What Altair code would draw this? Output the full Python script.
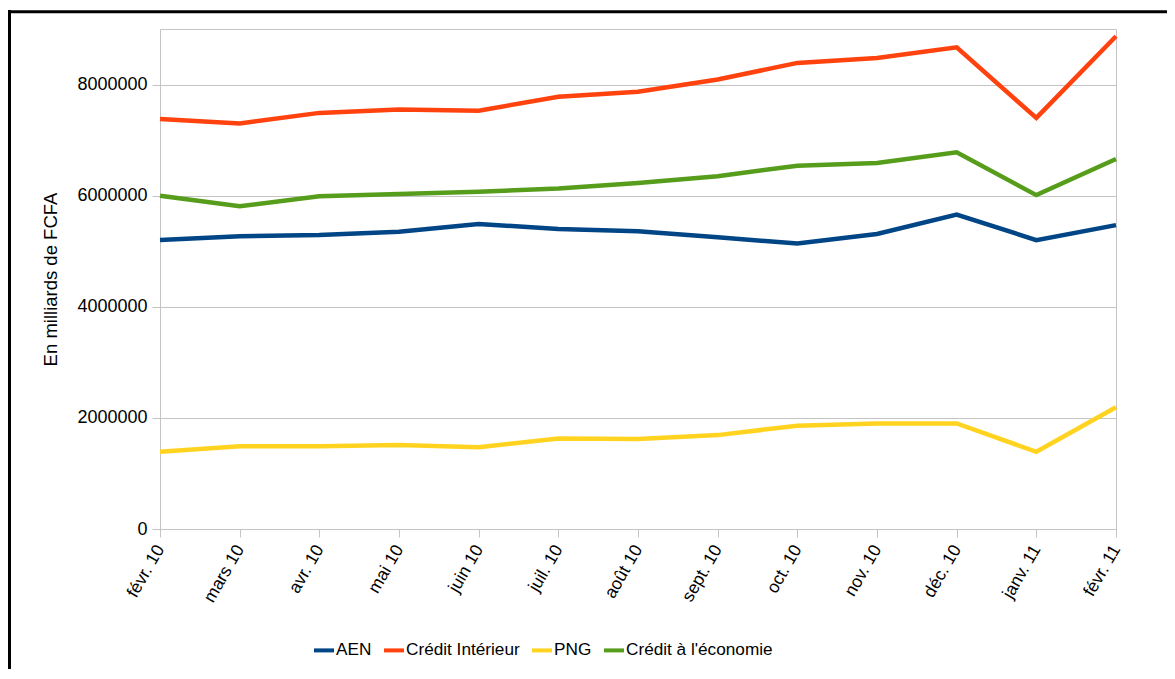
import altair as alt
import pandas as pd

mois = ["févr. 10", "mars 10", "avr. 10", "mai 10", "juin 10", "juil. 10", "août 10",
        "sept. 10", "oct. 10", "nov. 10", "déc. 10", "janv. 11", "févr. 11"]
series = ["AEN", "Crédit Intérieur", "PNG", "Crédit à l'économie"]
couleurs = ["#004586", "#ff420e", "#ffd320", "#579d1c"]

aen = [5200000, 5270000, 5290000, 5350000, 5490000, 5400000, 5360000,
       5250000, 5140000, 5310000, 5660000, 5200000, 5470000]
credit_interieur = [7380000, 7300000, 7490000, 7550000, 7530000, 7780000, 7870000,
                    8090000, 8390000, 8480000, 8670000, 7400000, 8870000]
png = [1390000, 1490000, 1490000, 1510000, 1470000, 1630000, 1620000,
       1690000, 1860000, 1900000, 1900000, 1390000, 2190000]
credit_economie = [6000000, 5810000, 5990000, 6030000, 6070000, 6130000, 6230000,
                   6350000, 6540000, 6590000, 6780000, 6010000, 6660000]
y_ticks = [0, 2000000, 4000000, 6000000, 8000000]

rows = []
for s, vals in zip(series, [aen, credit_interieur, png, credit_economie]):
    for i, (m, v) in enumerate(zip(mois, vals)):
        rows.append({"mois": m, "serie": s, "valeur": v, "ordre": i})
df = pd.DataFrame(rows)

FONT = "Liberation Sans"
GRID = "#c4c4c4"

lines = alt.Chart(df).mark_line(strokeWidth=4.5).encode(
    x=alt.X("mois:N", sort=mois, title=None,
            scale=alt.Scale(type="point", padding=0),
            axis=alt.Axis(labelAngle=-60, labelAlign="right", labelBaseline="middle",
                          labelFontSize=17.5, labelPadding=9, tickSize=8, grid=False,
                          labelOverlap=False)),
    y=alt.Y("valeur:Q", title="En milliards de FCFA",
            scale=alt.Scale(domain=[0, 9000000], nice=False),
            axis=alt.Axis(values=y_ticks, format="d", labelFontSize=18, tickSize=8,
                          labelPadding=5, titleFontSize=18.5, titlePadding=16,
                          titleFontWeight="normal", grid=True)),
    color=alt.Color("serie:N", scale=alt.Scale(domain=series, range=couleurs),
                    legend=alt.Legend(title=None, orient="none", legendX=152, legendY=609,
                                      direction="horizontal", columns=4, padding=0,
                                      symbolType="stroke", symbolSize=400,
                                      symbolStrokeWidth=4, labelFontSize=17.2,
                                      labelOffset=0, columnPadding=4,
                                      labelFont=FONT, labelColor="black")),
    order=alt.Order("ordre:Q"),
)

frame_data = pd.DataFrame({"k": [0]})
left_border = alt.Chart(frame_data).mark_rule(color="black", strokeWidth=3).encode(
    x=alt.value(-150.5), y=alt.value(-19), y2=alt.value(700))
top_border = alt.Chart(frame_data).mark_rule(color="black", strokeWidth=3).encode(
    x=alt.value(-152), x2=alt.value(1100), y=alt.value(-17.3))

chart = alt.layer(lines, left_border, top_border).properties(
    width=956, height=500,
    padding={"left": 152, "top": 21, "right": 51, "bottom": 140},
    autosize=alt.AutoSizeParams(type="none"),
    background="white",
).configure_view(
    stroke=GRID, strokeWidth=1
).configure_axis(
    labelFont=FONT, titleFont=FONT, labelColor="black", titleColor="black",
    domainColor=GRID, tickColor=GRID, gridColor=GRID, domainWidth=1, tickWidth=1,
)

chart.save("out.html", embed_options={"renderer": "svg", "actions": False})
